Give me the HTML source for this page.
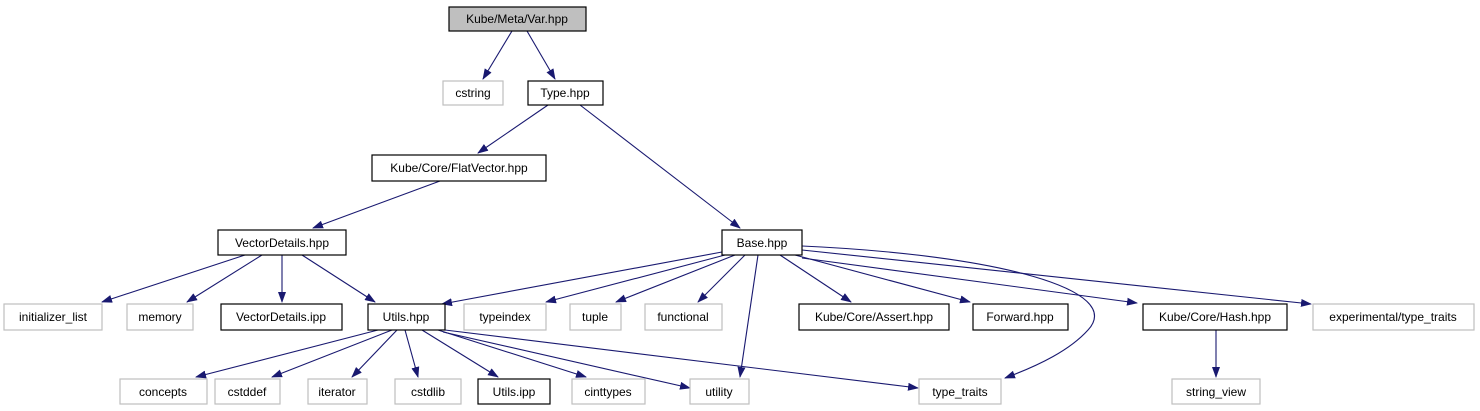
<!DOCTYPE html>
<html><head><meta charset="utf-8"><style>
html,body{margin:0;padding:0;background:#fff;}
svg{display:block;}
text{font-family:"Liberation Sans",sans-serif;font-size:12px;fill:#000;text-anchor:middle;}
.b{fill:#fff;stroke:#000;stroke-width:1.2;}
.g{fill:#fff;stroke:#bfbfbf;stroke-width:1.2;}
.e{fill:none;stroke:#191970;stroke-width:1.1;marker-end:url(#a);}
</style></head><body>
<svg width="1480" height="411" viewBox="0 0 1480 411" xmlns="http://www.w3.org/2000/svg">
<defs><marker id="a" markerWidth="11" markerHeight="8" refX="10" refY="4" orient="auto" markerUnits="userSpaceOnUse"><polygon points="0,0 11,4 0,8" fill="#191970"/></marker></defs>
<g>
<path class="e" d="M512,31 L483,79"/>
<path class="e" d="M527,31 L555,79"/>
<path class="e" d="M548,105 L478,153"/>
<path class="e" d="M580,105 L740,228"/>
<path class="e" d="M440,181 L313,228"/>
<path class="e" d="M245,255 L102,302"/>
<path class="e" d="M262,255 L187,302"/>
<path class="e" d="M282,255 L282,302"/>
<path class="e" d="M302,255 L375,302"/>
<path class="e" d="M722,252 L442,304"/>
<path class="e" d="M725,255 L546,302"/>
<path class="e" d="M735,255 L616,302"/>
<path class="e" d="M745,255 L698,302"/>
<path class="e" d="M758,255 L740,377"/>
<path class="e" d="M780,255 L851,302"/>
<path class="e" d="M795,255 L970,302"/>
<path class="e" d="M802,258 L1137,303"/>
<path class="e" d="M802,250 L1311,304"/>
<path class="e" d="M802,246 C1000,255 1125,290 1088,330 C1070,350 1040,365 1005,378"/>
<path class="e" d="M1216,330 L1216,377"/>
<path class="e" d="M378,330 L196,377"/>
<path class="e" d="M392,330 L272,377"/>
<path class="e" d="M397,330 L352,377"/>
<path class="e" d="M405,330 L418,377"/>
<path class="e" d="M422,330 L498,377"/>
<path class="e" d="M438,330 L586,377"/>
<path class="e" d="M443,332 L690,388"/>
<path class="e" d="M445,330 L918,388"/>
</g>
<rect x="449" y="7" width="137" height="24" fill="#bfbfbf" stroke="#000" stroke-width="1.2"/><text x="517" y="23">Kube/Meta/Var.hpp</text>
<rect class="g" x="443" y="81" width="60" height="24"/><text x="473" y="97">cstring</text>
<rect class="b" x="528" y="81" width="75" height="24"/><text x="565" y="97">Type.hpp</text>
<rect class="b" x="372" y="155" width="174" height="26"/><text x="459" y="172">Kube/Core/FlatVector.hpp</text>
<rect class="b" x="218" y="230" width="128" height="25"/><text x="282" y="247">VectorDetails.hpp</text>
<rect class="b" x="722" y="230" width="80" height="25"/><text x="762" y="247">Base.hpp</text>
<rect class="g" x="4" y="304" width="98" height="26"/><text x="53" y="321">initializer_list</text>
<rect class="g" x="127" y="304" width="66" height="26"/><text x="160" y="321">memory</text>
<rect class="b" x="221" y="304" width="121" height="26"/><text x="281" y="321">VectorDetails.ipp</text>
<rect class="b" x="368" y="304" width="77" height="26"/><text x="406" y="321">Utils.hpp</text>
<rect class="g" x="464" y="304" width="82" height="26"/><text x="505" y="321">typeindex</text>
<rect class="g" x="570" y="304" width="51" height="26"/><text x="595" y="321">tuple</text>
<rect class="g" x="645" y="304" width="77" height="26"/><text x="683" y="321">functional</text>
<rect class="b" x="799" y="304" width="150" height="26"/><text x="874" y="321">Kube/Core/Assert.hpp</text>
<rect class="b" x="973" y="304" width="95" height="26"/><text x="1020" y="321">Forward.hpp</text>
<rect class="b" x="1143" y="304" width="144" height="26"/><text x="1215" y="321">Kube/Core/Hash.hpp</text>
<rect class="g" x="1313" y="304" width="161" height="26"/><text x="1393" y="321">experimental/type_traits</text>
<rect class="g" x="120" y="379" width="87" height="25"/><text x="163" y="396">concepts</text>
<rect class="g" x="215" y="379" width="65" height="25"/><text x="247" y="396">cstddef</text>
<rect class="g" x="308" y="379" width="59" height="25"/><text x="337" y="396">iterator</text>
<rect class="g" x="395" y="379" width="66" height="25"/><text x="428" y="396">cstdlib</text>
<rect class="b" x="478" y="379" width="72" height="25"/><text x="514" y="396">Utils.ipp</text>
<rect class="g" x="572" y="379" width="73" height="25"/><text x="608" y="396">cinttypes</text>
<rect class="g" x="690" y="379" width="59" height="25"/><text x="719" y="396">utility</text>
<rect class="g" x="919" y="379" width="82" height="25"/><text x="960" y="396">type_traits</text>
<rect class="g" x="1172" y="379" width="88" height="25"/><text x="1216" y="396">string_view</text>
</svg>
</body></html>
